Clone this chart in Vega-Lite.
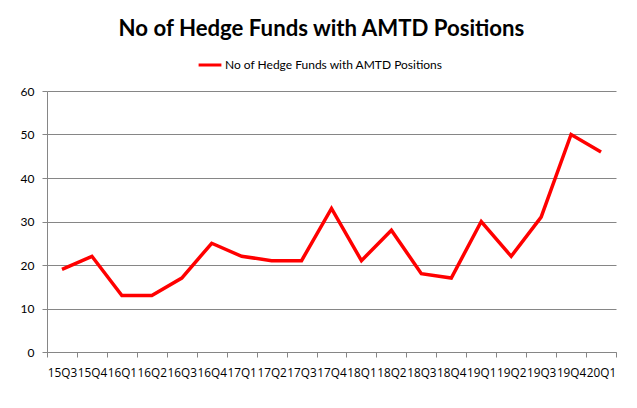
{
  "$schema": "https://vega.github.io/schema/vega-lite/v6.json",
  "width": 569,
  "height": 261,
  "autosize": {"type": "none"},
  "padding": {"left": 47, "top": 91, "right": 21, "bottom": 56},
  "background": "white",
  "title": {
    "text": "No of Hedge Funds with AMTD Positions",
    "anchor": "middle",
    "frame": "group",
    "dx": -10,
    "font": "Lato",
    "fontSize": 22.2,
    "fontWeight": "bold",
    "color": "#000000",
    "offset": 12
  },
  "data": {
    "values": [
      {"quarter": "15Q3", "funds": 19, "series": "No of Hedge Funds with AMTD Positions"},
      {"quarter": "15Q4", "funds": 22, "series": "No of Hedge Funds with AMTD Positions"},
      {"quarter": "16Q1", "funds": 13, "series": "No of Hedge Funds with AMTD Positions"},
      {"quarter": "16Q2", "funds": 13, "series": "No of Hedge Funds with AMTD Positions"},
      {"quarter": "16Q3", "funds": 17, "series": "No of Hedge Funds with AMTD Positions"},
      {"quarter": "16Q4", "funds": 25, "series": "No of Hedge Funds with AMTD Positions"},
      {"quarter": "17Q1", "funds": 22, "series": "No of Hedge Funds with AMTD Positions"},
      {"quarter": "17Q2", "funds": 21, "series": "No of Hedge Funds with AMTD Positions"},
      {"quarter": "17Q3", "funds": 21, "series": "No of Hedge Funds with AMTD Positions"},
      {"quarter": "17Q4", "funds": 33, "series": "No of Hedge Funds with AMTD Positions"},
      {"quarter": "18Q1", "funds": 21, "series": "No of Hedge Funds with AMTD Positions"},
      {"quarter": "18Q2", "funds": 28, "series": "No of Hedge Funds with AMTD Positions"},
      {"quarter": "18Q3", "funds": 18, "series": "No of Hedge Funds with AMTD Positions"},
      {"quarter": "18Q4", "funds": 17, "series": "No of Hedge Funds with AMTD Positions"},
      {"quarter": "19Q1", "funds": 30, "series": "No of Hedge Funds with AMTD Positions"},
      {"quarter": "19Q2", "funds": 22, "series": "No of Hedge Funds with AMTD Positions"},
      {"quarter": "19Q3", "funds": 31, "series": "No of Hedge Funds with AMTD Positions"},
      {"quarter": "19Q4", "funds": 50, "series": "No of Hedge Funds with AMTD Positions"},
      {"quarter": "20Q1", "funds": 46, "series": "No of Hedge Funds with AMTD Positions"}
    ]
  },
  "mark": {"type": "line", "strokeWidth": 3.5, "strokeJoin": "miter"},
  "encoding": {
    "x": {
      "field": "quarter",
      "type": "ordinal",
      "sort": null,
      "scale": {"type": "band", "paddingInner": 0, "paddingOuter": 0},
      "axis": {
        "title": null,
        "labelAngle": 0,
        "labelOverlap": false,
        "tickBand": "extent",
        "grid": false,
        "domainColor": "#868686",
        "tickColor": "#868686",
        "tickSize": 5,
        "labelPadding": 10,
        "labelFont": "Open Sans",
        "labelFontSize": 11.8,
        "labelColor": "#000000"
      }
    },
    "y": {
      "field": "funds",
      "type": "quantitative",
      "scale": {"domain": [0, 60]},
      "axis": {
        "title": null,
        "values": [0, 10, 20, 30, 40, 50, 60],
        "grid": true,
        "gridColor": "#868686",
        "domainColor": "#868686",
        "tickColor": "#868686",
        "tickSize": 5,
        "labelPadding": 8,
        "labelFont": "Lato",
        "labelFontSize": 12,
        "labelColor": "#000000"
      }
    },
    "color": {
      "field": "series",
      "type": "nominal",
      "scale": {"range": ["#FF0000"]},
      "legend": {
        "title": null,
        "orient": "none",
        "legendX": 150,
        "legendY": -39,
        "symbolType": "stroke",
        "symbolStrokeWidth": 3,
        "symbolSize": 520,
        "labelFont": "Lato",
        "labelFontSize": 12,
        "labelLimit": 400,
        "labelColor": "#000000",
        "labelOffset": 2
      }
    }
  },
  "config": {"view": {"stroke": null}}
}
